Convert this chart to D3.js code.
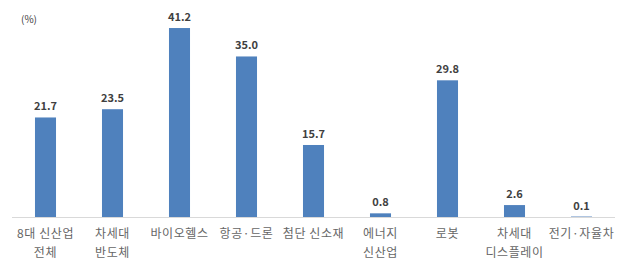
<!DOCTYPE html>
<html>
<head>
<meta charset="utf-8">
<script src="https://cdn.jsdelivr.net/npm/d3@7"></script>
<style>
  body { margin: 0; background: #fff; }
  text { font-family: "Noto Sans CJK KR", "Noto Sans", sans-serif; }
</style>
</head>
<body>
<div id="chart-area"></div>
<script>
const categories = [
  ["8대 신산업", "전체"],
  ["차세대", "반도체"],
  ["바이오헬스"],
  ["항공·드론"],
  ["첨단 신소재"],
  ["에너지", "신산업"],
  ["로봇"],
  ["차세대", "디스플레이"],
  ["전기·자율차"]
];
const values = [21.7, 23.5, 41.2, 35.0, 15.7, 0.8, 29.8, 2.6, 0.1];
const unitLabel = "(%)";

const width = 627,
  height = 270;
const baseline = 217;

const svg = d3
  .select("#chart-area")
  .append("svg")
  .attr("width", width)
  .attr("height", height);

// Scales
const xScale = d3
  .scaleBand()
  .domain(d3.range(values.length))
  .range([12, 615])
  .paddingInner(0.686)
  .paddingOuter(0.343);
const yScale = d3.scaleLinear().domain([0, 45]).range([baseline, 10.6]);

// baseline
svg
  .append("line")
  .attr("x1", 12)
  .attr("x2", 615)
  .attr("y1", baseline + 0.5)
  .attr("y2", baseline + 0.5)
  .attr("stroke", "#d9d9d9")
  .attr("stroke-width", 1);

// bars
svg
  .selectAll("rect.bar")
  .data(values)
  .enter()
  .append("rect")
  .attr("class", "bar")
  .attr("fill", "#4F81BD")
  .attr("x", (d, i) => xScale(i))
  .attr("width", xScale.bandwidth())
  .attr("y", d => yScale(d))
  .attr("height", d => baseline - yScale(d));

// value labels
svg
  .selectAll("text.value")
  .data(values)
  .enter()
  .append("text")
  .attr("class", "value")
  .attr("x", (d, i) => xScale(i) + xScale.bandwidth() / 2)
  .attr("y", d => yScale(d) - 7)
  .attr("text-anchor", "middle")
  .attr("font-size", "11px")
  .attr("font-weight", "bold")
  .attr("fill", "#404040")
  .text(d => d.toFixed(1));

// category labels
const cat = svg
  .selectAll("text.cat")
  .data(categories)
  .enter()
  .append("text")
  .attr("class", "cat")
  .attr("text-anchor", "middle")
  .attr("font-size", "12px")
  .attr("letter-spacing", "0.6px")
  .attr("fill", "#666666")
  .attr("transform", (d, i) => `translate(${xScale(i) + xScale.bandwidth() / 2},0)`);

cat
  .selectAll("tspan")
  .data(d => d)
  .enter()
  .append("tspan")
  .attr("x", 0)
  .attr("y", (d, j) => 238 + j * 19)
  .text(d => d);

// unit label
svg
  .append("text")
  .attr("x", 21)
  .attr("y", 23)
  .attr("font-size", "10px")
  .attr("fill", "#404040")
  .text(unitLabel);
</script>
</body>
</html>
